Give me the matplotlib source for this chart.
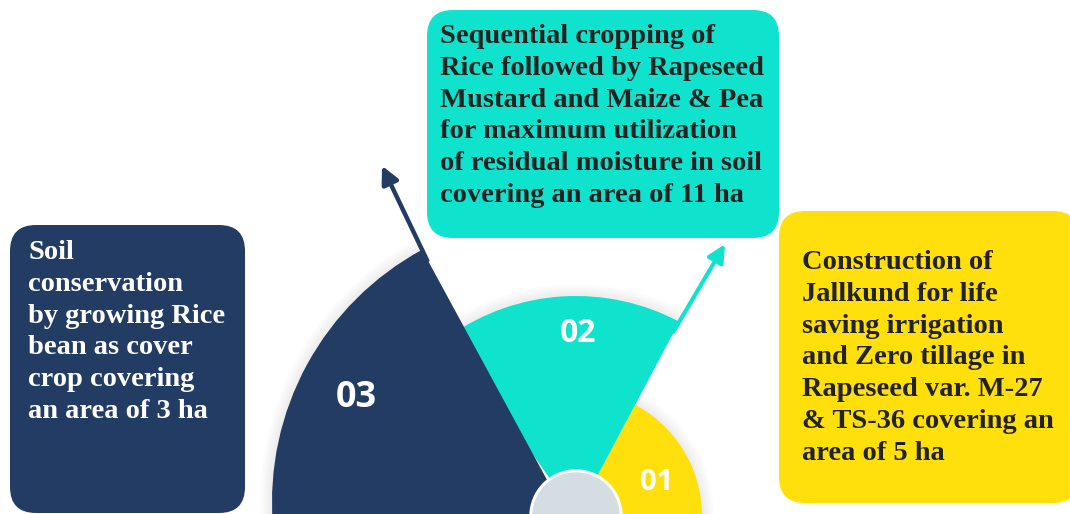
import numpy as np
import matplotlib
matplotlib.use("Agg")
import matplotlib.pyplot as plt
from matplotlib.patches import Wedge, Circle, FancyBboxPatch

# step labels and the practices they describe
labels = ["01", "02", "03"]
areas_ha = [5, 11, 3]
texts = [
    ["Construction of", "Jallkund for life", "saving irrigation",
     "and Zero tillage in", "Rapeseed var. M-27", "& TS-36 covering an",
     "area of %d ha" % areas_ha[0]],
    ["Sequential cropping of", "Rice followed by Rapeseed",
     "Mustard and Maize & Pea", "for maximum utilization",
     "of residual moisture in soil", "covering an area of %d ha" % areas_ha[1]],
    ["Soil", "conservation", "by growing Rice", "bean as cover",
     "crop covering", "an area of %d ha" % areas_ha[2]],
]

# wedge geometry (screen angles in degrees, pixel centres) and colours
centers = [(576, 516), (576, 516), (559, 502)]
angle_from = [-10, 62, 118.5]
angle_to = [62, 125, 250]
radius = [126, 220, 287]
colors = ["#ffe00c", "#10e3cd", "#233c63"]
text_colors = ["#222222", "#222222", "white"]

# arrows: start angle on the arc, direction, length
arrow_start = [-3, 62, 118.5]
arrow_dir = [2.5, 59.5, 115.5]
arrow_len = [122, 90, 93]
arrow_w = [3, 3, 3.2]
arrow_alpha = [0.6, 1, 1]

# box layout: x, y(top), w, h, text x, first baseline
boxes = [
    (779, 211, 300, 292, 802, 269),
    (427, 10, 352, 228, 440, 43),
    (10, 225, 235, 288, 28, 259),
]
line_step = 31.8

fig = plt.figure(figsize=(10.7, 5.14), dpi=100)
ax = fig.add_axes([0, 0, 1, 1])
ax.set_xlim(0, 1070)
ax.set_ylim(514, 0)
ax.axis("off")

# soft shadow under the wedges
for k in range(6):
    for i in range(3):
        ax.add_patch(Wedge(centers[i], radius[i] + 2 + k * 2, -angle_to[i], -angle_from[i],
                           color="#000000", alpha=0.012, lw=0, zorder=1))

for i in range(3):
    ax.add_patch(Wedge(centers[i], radius[i], -angle_to[i], -angle_from[i],
                       color=colors[i], lw=0, zorder=2 + i * 0.1))

# arrows coming out of the wedges
for i in range(3):
    a0 = np.deg2rad(arrow_start[i])
    a1 = np.deg2rad(arrow_dir[i])
    start = np.array(centers[i]) + radius[i] * np.array([np.cos(a0), -np.sin(a0)])
    tip = start + arrow_len[i] * np.array([np.cos(a1), -np.sin(a1)])
    start = start - 12 * np.array([np.cos(a1), -np.sin(a1)])
    ax.annotate("", xy=tip, xytext=start, zorder=1.5,
                arrowprops=dict(arrowstyle="-|>", lw=arrow_w[i], color=colors[i],
                                alpha=arrow_alpha[i], mutation_scale=26,
                                shrinkA=0, shrinkB=0))

# hub
hub = (576, 516)
ax.add_patch(Circle(hub, 46, color="white", zorder=3))
ax.add_patch(Circle(hub, 43, color="#d4dde1", zorder=3.1))

# step numbers
num_pos = [(657, 482), (578, 333), (356, 398)]
num_size = [21, 23, 26]
for i in range(3):
    ax.text(num_pos[i][0], num_pos[i][1], labels[i], color="white", fontsize=num_size[i],
            fontweight="bold", ha="center", va="center", zorder=4,
            family=["Open Sans", "DejaVu Sans"])

# text boxes
for i in range(3):
    x, y, w, h, tx, ty = boxes[i]
    ax.add_patch(FancyBboxPatch((x, y), w, h, boxstyle="round,pad=0,rounding_size=26",
                                color=colors[i], lw=0, zorder=5))
    for j, line in enumerate(texts[i]):
        ax.text(tx, ty + j * line_step, line, color=text_colors[i], fontsize=20.5,
                fontweight="bold", family="Liberation Serif", ha="left",
                va="baseline", zorder=6)

fig.savefig("out.png", dpi=100)
